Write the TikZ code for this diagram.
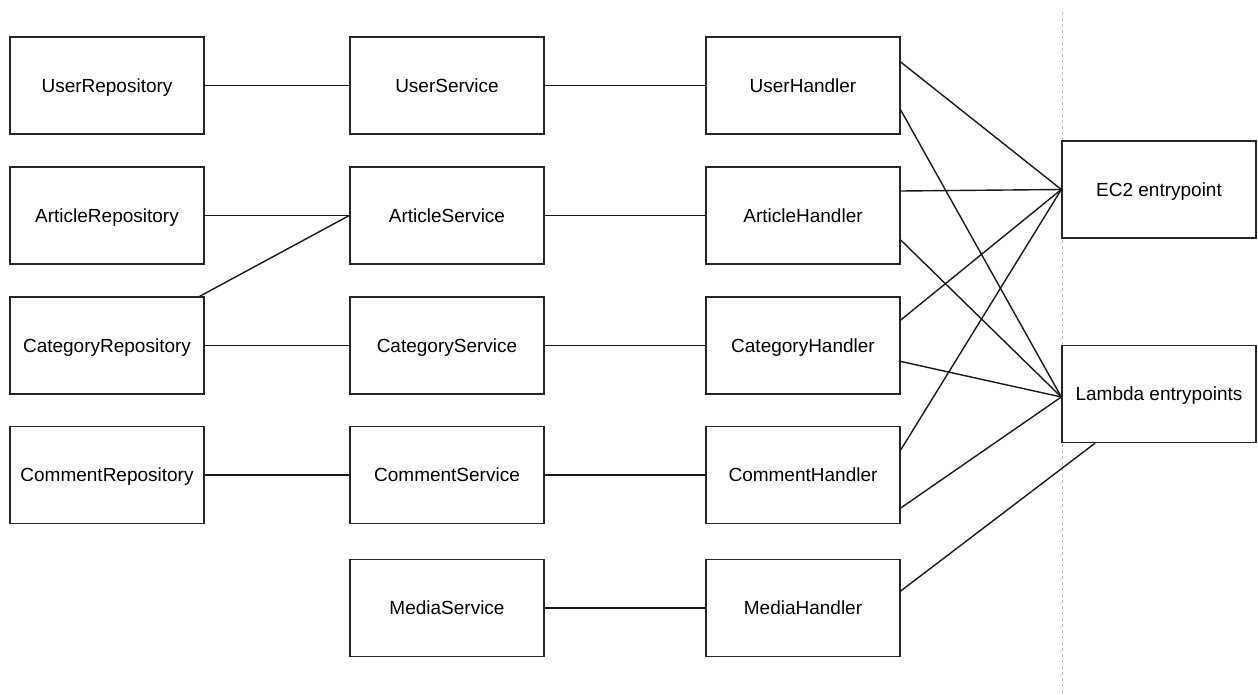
\documentclass[tikz,border=0pt]{standalone}
\usepackage{fontspec}
\setmainfont{Liberation Sans}
\begin{document}
\begin{tikzpicture}[x=1pt,y=-1pt,
  box/.style={draw=black!85,line width=1.4pt,minimum width=194pt,minimum height=97pt,inner sep=0pt,text height=13.6pt,text depth=0pt,font=\fontsize{19}{22}\selectfont,fill=white},
  link/.style={draw=black!90,line width=1.4pt}]
\useasboundingbox[fill=white] (0,0) rectangle (1258,695);
\coordinate (dtop) at (1062,12);
\coordinate (dbot) at (1062,695);
\draw[black!25,line width=0.8pt,dash pattern=on 3pt off 3pt] (dtop) -- (dbot);
% column 1
\node[box] (ur) at (107,85.5) {UserRepository};
\node[box] (ar) at (107,215.5) {ArticleRepository};
\node[box] (cr) at (107,345.5) {CategoryRepository};
\node[box] (cor) at (107,475) {CommentRepository};
% column 2
\node[box] (us) at (447,85.5) {UserService};
\node[box] (as) at (447,215.5) {ArticleService};
\node[box] (cs) at (447,345.5) {CategoryService};
\node[box] (cos) at (447,475) {CommentService};
\node[box] (ms) at (447,608) {MediaService};
% column 3
\node[box] (uh) at (803,85.5) {UserHandler};
\node[box] (ah) at (803,215.5) {ArticleHandler};
\node[box] (ch) at (803,345.5) {CategoryHandler};
\node[box] (coh) at (803,475) {CommentHandler};
\node[box] (mh) at (803,608) {MediaHandler};
% entrypoints
\node[box] (ec2) at (1159,189.5) {EC2 entrypoint};
\node[box] (lam) at (1159,394) {Lambda entrypoints};
% repo - service
\draw[link] (ur.east) -- (us.west);
\draw[link] (ar.east) -- (as.west);
\draw[link] ([xshift=-5pt]cr.north east) -- (as.west);
\draw[link] (cr.east) -- (cs.west);
\draw[link] (cor.east) -- (cos.west);
% service - handler
\draw[link] (us.east) -- (uh.west);
\draw[link] (as.east) -- (ah.west);
\draw[link] (cs.east) -- (ch.west);
\draw[link] (cos.east) -- (coh.west);
\draw[link] (ms.east) -- (mh.west);
% handler - entrypoints
\coordinate (ec2in) at (ec2.west);
\coordinate (lamin) at ([yshift=-3pt]lam.west);
\draw[link] ([yshift=23.5pt]uh.east) -- (ec2in);
\draw[link] ([yshift=-24.5pt]uh.east) -- (lamin);
\draw[link] ([yshift=24.5pt]ah.east) -- (ec2in);
\draw[link] ([yshift=-24.5pt]ah.east) -- (lamin);
\draw[link] ([yshift=25.5pt]ch.east) -- (ec2in);
\draw[link] ([xshift=-2pt,yshift=-15.5pt]ch.east) -- (lamin);
\draw[link] ([yshift=25pt]coh.east) -- (ec2in);
\draw[link] ([yshift=-33pt]coh.east) -- (lamin);
\draw[link] ([yshift=17pt]mh.east) -- ([xshift=-64pt]lam.south);
\end{tikzpicture}
\end{document}
